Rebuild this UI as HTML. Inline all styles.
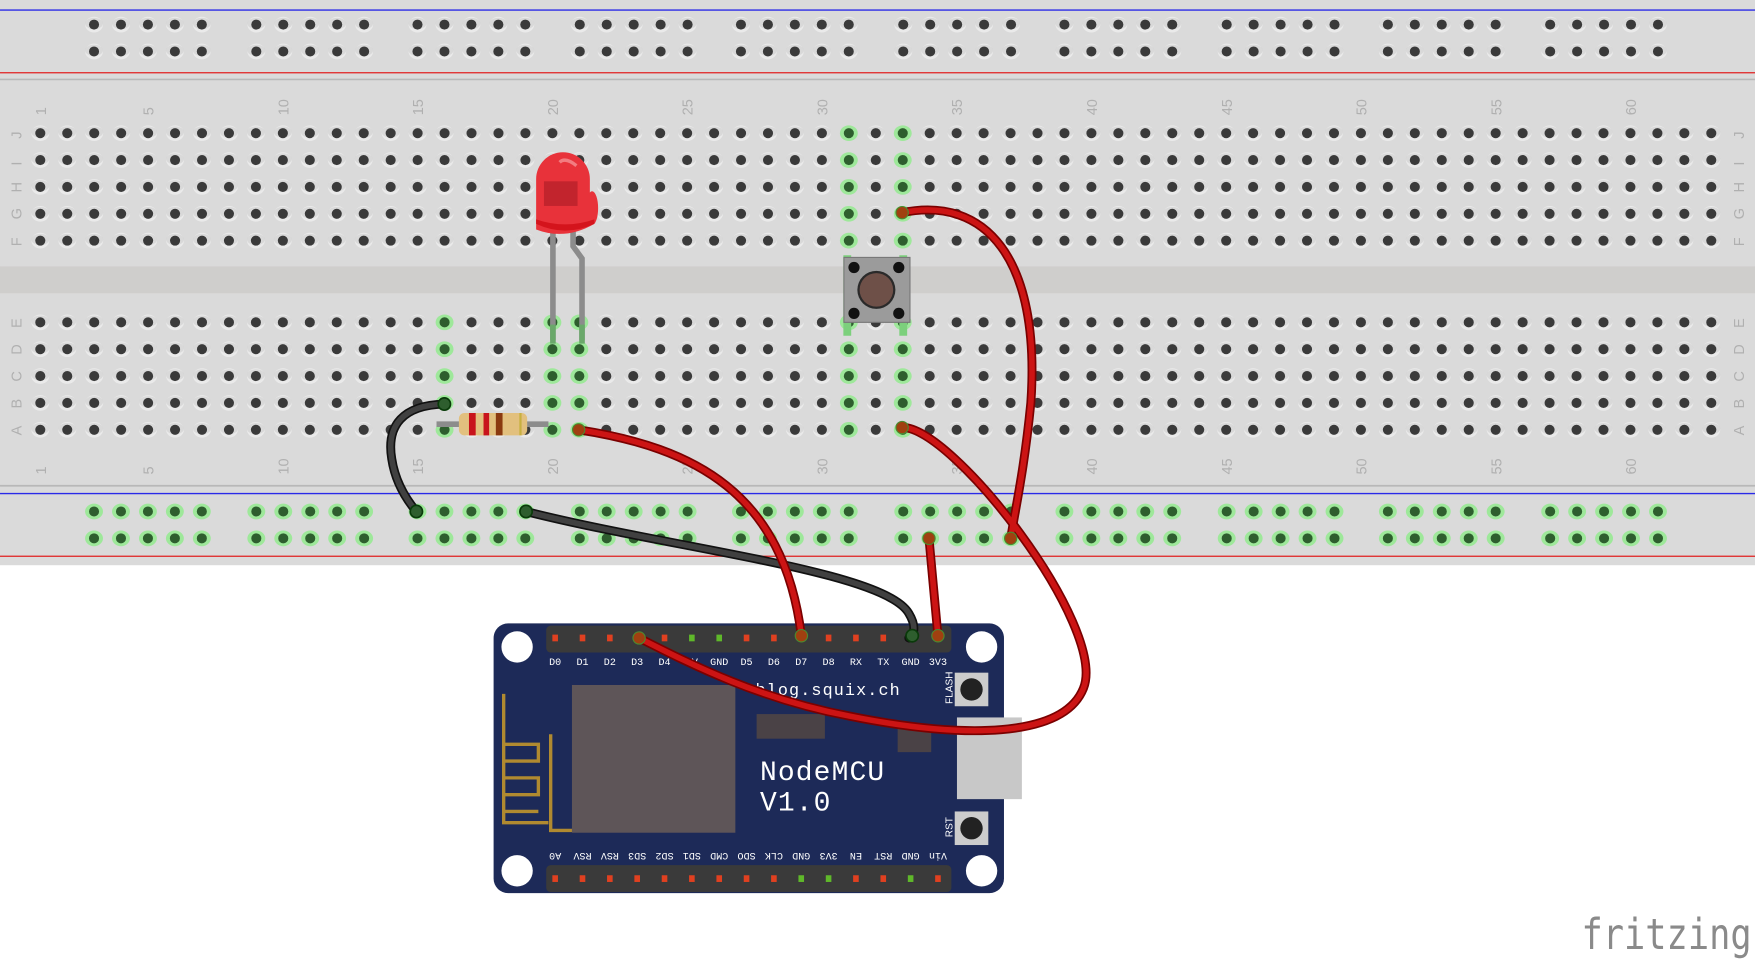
<!DOCTYPE html>
<html><head><meta charset="utf-8"><style>html,body{margin:0;padding:0;background:#fff}svg{display:block}</style></head>
<body>
<svg id="s" width="1755" height="963" viewBox="0 0 1568 860.4" xmlns="http://www.w3.org/2000/svg" font-family="Liberation Sans, sans-serif">
<rect x="0" y="0" width="1568" height="505" fill="#dadada"/>
<line x1="0" y1="9" x2="1568" y2="9" stroke="#2a2ae8" stroke-width="1.2"/>
<line x1="0" y1="65" x2="1568" y2="65" stroke="#e02020" stroke-width="1.2"/>
<line x1="0" y1="71" x2="1568" y2="71" stroke="#b8b8b8" stroke-width="1.5"/>
<rect x="0" y="238" width="1568" height="24" fill="#cfcecc"/>
<line x1="0" y1="434" x2="1568" y2="434" stroke="#b8b8b8" stroke-width="1.5"/>
<line x1="0" y1="441" x2="1568" y2="441" stroke="#2a2ae8" stroke-width="1.2"/>
<line x1="0" y1="497" x2="1568" y2="497" stroke="#e02020" stroke-width="1.2"/>
<g id="dots"></g>
<g id="labels" fill="#b0b0b0" font-size="13"></g>

<!-- LED legs -->
<path d="M494 205 V304" stroke="#8c8c8c" stroke-width="5" fill="none"/>
<path d="M512 205 V220 L520 231 V304" stroke="#8c8c8c" stroke-width="5" fill="none"/>
<path d="M494 290 V307 M520 290 V307" stroke="#6aa86a" stroke-width="5"/>
<!-- LED -->
<path d="M479 205 V160 A24 24 0 0 1 527 160 V172 A5 14 0 0 1 531 200 Q505 215 479 205 Z" fill="#e8323a"/>
<path d="M479 200 Q505 212 531 200 V196 Q505 205 479 196 Z" fill="#d4141c"/>
<rect x="486" y="162" width="30" height="22" fill="#b8202a" opacity="0.8"/>
<path d="M500 145 Q505 140 515 148" stroke="#f27c80" stroke-width="3" fill="none"/>
<!-- Button -->
<path d="M757 228 V300 M807 228 V300" stroke="#7cd07c" stroke-width="7"/>
<rect x="754" y="230" width="59" height="58" fill="#9b9b9b" stroke="#777" stroke-width="1"/>
<circle cx="783" cy="259" r="17" fill="#2a2a2a"/><circle cx="783" cy="259" r="15" fill="#6e5048"/>
<circle cx="763" cy="239" r="5" fill="#111"/><circle cx="803" cy="239" r="5" fill="#111"/>
<circle cx="763" cy="280" r="5" fill="#111"/><circle cx="803" cy="280" r="5" fill="#111"/>
<!-- Resistor -->
<line x1="390" y1="379" x2="490" y2="379" stroke="#8c8c8c" stroke-width="5"/>
<rect x="410" y="369" width="61" height="20" rx="5" fill="#e2c07e"/>
<rect x="419" y="369" width="6" height="20" fill="#c8141c"/><rect x="432" y="369" width="5" height="20" fill="#c8141c"/><rect x="443" y="369" width="6" height="20" fill="#8a3a10"/><rect x="464" y="369" width="2" height="20" fill="#c8b040"/>

<!-- NodeMCU -->
<rect x="441" y="557" width="456" height="241" rx="13" fill="#1d2a58"/>
<rect x="855" y="641" width="58" height="73" fill="#c8c8c8"/>
<circle cx="462" cy="578" r="14" fill="#fff"/><circle cx="877" cy="578" r="14" fill="#fff"/>
<circle cx="462" cy="778" r="14" fill="#fff"/><circle cx="877" cy="778" r="14" fill="#fff"/>
<rect x="511" y="612" width="146" height="132" fill="#5e5558"/>
<rect x="676" y="638" width="61" height="22" fill="#4a4246"/>
<rect x="802" y="648" width="30" height="24" fill="#4a4246"/>
<rect x="853" y="601" width="30" height="30" fill="#ccc"/><circle cx="868" cy="616" r="10" fill="#222"/>
<rect x="853" y="725" width="30" height="30" fill="#ccc"/><circle cx="868" cy="740" r="10" fill="#222"/>
<text x="0" y="0" fill="#fff" font-size="9" transform="translate(851,629) rotate(-90)">FLASH</text>
<text x="0" y="0" fill="#fff" font-size="9" transform="translate(851,748) rotate(-90)">RST</text>
<path d="M450 620 V735 H490 M450 665 H481 V680 H450 V695 H481 V710 H450 V725 H481 M492 656 V742 H511" stroke="#b08a30" stroke-width="3" fill="none"/>
<text x="675" y="621" fill="#fff" font-size="15" font-family="Liberation Mono, monospace" letter-spacing="1">blog.squix.ch</text>
<text x="679" y="697" fill="#fff" font-size="25" font-family="Liberation Mono, monospace" letter-spacing="1">NodeMCU</text>
<text x="679" y="724" fill="#fff" font-size="25" font-family="Liberation Mono, monospace" letter-spacing="1">V1.0</text>
<g id="mcu"></g>

<!-- wires -->
<g fill="none" stroke-linecap="round">
<path d="M397 361 C360 362 345 380 350 410 C353 430 362 445 372 457" stroke="#111" stroke-width="8"/>
<path d="M397 361 C360 362 345 380 350 410 C353 430 362 445 372 457" stroke="#404040" stroke-width="5"/>
<path d="M470 457 C600 490 790 510 812 548 C818 558 818 566 812 570" stroke="#111" stroke-width="8"/>
<path d="M470 457 C600 490 790 510 812 548 C818 558 818 566 812 570" stroke="#404040" stroke-width="5"/>
<g id="red">
<path d="M517 384 C620 400 700 440 716 568"/>
<path d="M806 190 C880 175 930 230 921 360 C915 420 908 450 903 481"/>
<path d="M806 382 C850 380 990 560 968 615 C950 660 860 660 760 640 C680 625 620 595 571 570"/>
<path d="M830 481 L838 568"/>
</g>
</g>
<text x="1413" y="848" fill="#8a8a8a" font-size="38" font-family="DejaVu Sans Mono, monospace" textLength="152" lengthAdjust="spacingAndGlyphs">fritzing</text>
</svg>
<script>
(function(){
const NS="http://www.w3.org/2000/svg";
const S=document.getElementById('s');
function el(t,a,p){const e=document.createElementNS(NS,t);for(const k in a)e.setAttribute(k,a[k]);(p||document.getElementById('dots')).appendChild(e);return e;}
function hole(x,y,g){
 if(g){el('ellipse',{cx:x,cy:y,rx:8,ry:7,fill:'#9ee89a'});el('ellipse',{cx:x,cy:y,rx:4.5,ry:4.5,fill:'#2e5e2e'});}
 else{el('ellipse',{cx:x,cy:y,rx:8,ry:7,fill:'#eaeaea'});el('ellipse',{cx:x,cy:y-1,rx:8,ry:5,fill:'#c8c8c8',opacity:.5});el('circle',{cx:x,cy:y,r:4.5,fill:'#3a3a3a'});}
}
const sp=24.08, x0=36;
const upY=[119,143,167,191,215], loY=[288,312,336,360,384];
const gUp=[31,33], gLo=[16,20,21,31,33];
for(let c=1;c<=63;c++){const x=x0+(c-1)*sp;
 upY.forEach(y=>hole(x,y,gUp.includes(c)));
 loY.forEach(y=>hole(x,y,gLo.includes(c)));}
const gs=[84,229,373,518,662,807,951,1096,1240,1385];
gs.forEach(g=>{for(let i=0;i<5;i++){const x=g+i*sp;hole(x,22,false);hole(x,46,false);hole(x,457,true);hole(x,481,true);}});
const L=document.getElementById('labels');
[1,5,10,15,20,25,30,35,40,45,50,55,60].forEach(n=>{const x=x0+(n-1)*sp+5;
 el('text',{transform:'translate('+x+',103) rotate(-90)'},L).textContent=n;
 el('text',{transform:'translate('+x+',424) rotate(-90)'},L).textContent=n;});
const lets=['J','I','H','G','F'],lets2=['E','D','C','B','A'];
lets.forEach((t,i)=>{el('text',{transform:'translate(19,'+(upY[i]+5)+') rotate(-90)'},L).textContent=t;el('text',{transform:'translate(1558,'+(upY[i]+5)+') rotate(-90)'},L).textContent=t;});
lets2.forEach((t,i)=>{el('text',{transform:'translate(19,'+(loY[i]+5)+') rotate(-90)'},L).textContent=t;el('text',{transform:'translate(1558,'+(loY[i]+5)+') rotate(-90)'},L).textContent=t;});
const M=document.getElementById('mcu');
const topP=['D0','D1','D2','D3','D4','3V','GND','D5','D6','D7','D8','RX','TX','GND','3V3'];
const botP=['A0','RSV','RSV','SD3','SD2','SD1','CMD','SDO','CLK','GND','3V3','EN','RST','GND','Vin'];
const tg=[5,6], bg=[9,10,13];
el('rect',{x:488,y:559,width:362,height:24,rx:4,fill:'#3a3a3a'},M);
el('rect',{x:488,y:773,width:362,height:24,rx:4,fill:'#3a3a3a'},M);
for(let i=0;i<15;i++){const x=496+i*24.43;
 el('rect',{x:x-2.5,y:567,width:5,height:6,fill:tg.includes(i)?'#5fb82a':'#e04020'},M);
 el('rect',{x:x-2.5,y:782,width:5,height:6,fill:bg.includes(i)?'#5fb82a':'#e04020'},M);
 el('text',{x:x,y:594,fill:'#fff','font-size':9,'text-anchor':'middle','font-family':'Liberation Mono, monospace'},M).textContent=topP[i];
 el('text',{transform:'translate('+x+',762) rotate(180)',fill:'#fff','font-size':9,'text-anchor':'middle','font-family':'Liberation Mono, monospace'},M).textContent=botP[i];}
const R=document.getElementById('red');
Array.from(R.children).forEach(p=>{const o=p.cloneNode();o.setAttribute('stroke','#7a0000');o.setAttribute('stroke-width','8');R.insertBefore(o,R.firstChild);p.setAttribute('stroke','#cc1414');p.setAttribute('stroke-width','5');});
[[517,384],[806,190],[806,382],[830,481],[903,481],[571,570],[716,568],[838,568]].forEach(p=>el('circle',{cx:p[0],cy:p[1],r:5.5,fill:'#a04010',stroke:'#4a8a30','stroke-width':1},S));
[[397,361],[372,457],[470,457],[815,568]].forEach(p=>el('circle',{cx:p[0],cy:p[1],r:5.5,fill:'#2e5e2e',stroke:'#0a3a0a','stroke-width':1.5},S));
})();
</script>
</body></html>
